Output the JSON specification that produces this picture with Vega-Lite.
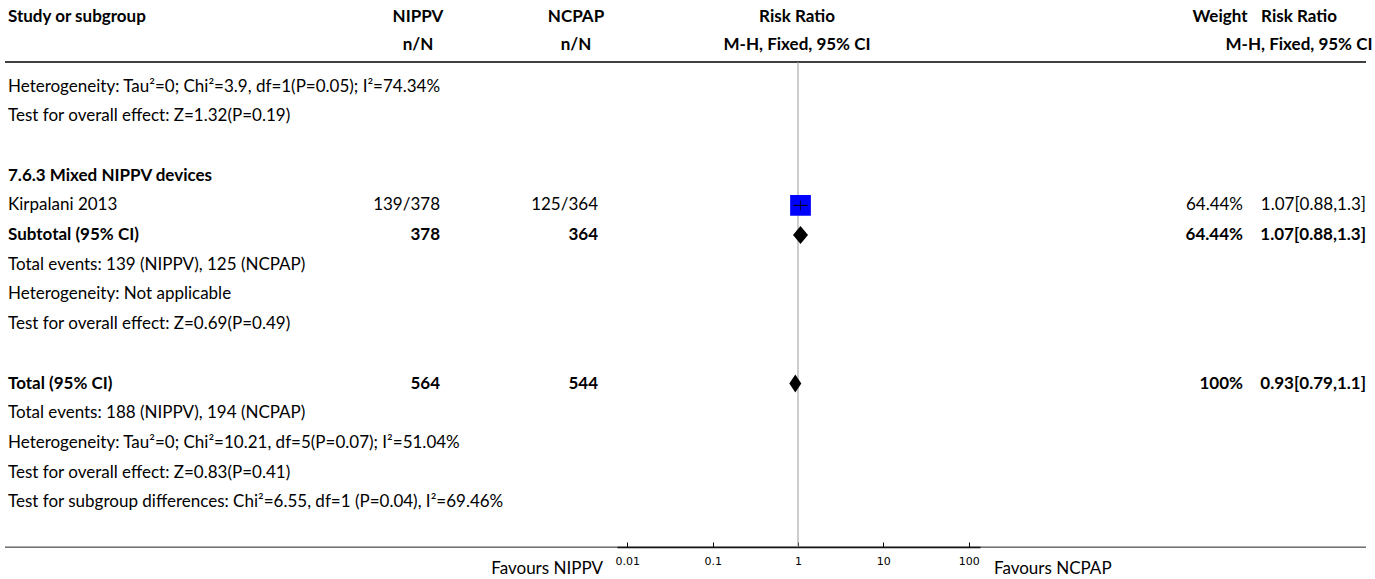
{
  "$schema": "https://vega.github.io/schema/vega-lite/v6.json",
  "width": 1375,
  "height": 547,
  "autosize": {"type": "none"},
  "padding": {"left": 0, "top": 0, "right": 0, "bottom": 32},
  "config": {
    "view": {"stroke": null},
    "font": "Lato",
    "text": {"font": "Lato", "fontSize": 17, "color": "#000", "baseline": "middle"},
    "axis": {"grid": false, "domainColor": "#000", "domainWidth": 1.5, "tickColor": "#000", "tickWidth": 1, "tickSize": -5, "labelFont": "DejaVu Sans", "labelFontSize": 11, "labelColor": "#000", "labelPadding": 13, "title": null}
  },
  "datasets": {
    "header": [
      {"hrow": -2.35, "study": "Study or subgroup", "nippv": "NIPPV", "ncpap": "NCPAP", "rr1": "Risk Ratio", "weight": "Weight", "rr": "Risk Ratio"},
      {"hrow": -1.4, "study": "", "nippv": "n/N", "ncpap": "n/N", "rr1": "M-H, Fixed, 95% CI", "weight": "", "rr": "M-H, Fixed, 95% CI"}
    ],
    "rows": [
      {"row": 0, "study": "Heterogeneity: Tau²=0; Chi²=3.9, df=1(P=0.05); I²=74.34%", "bold": false},
      {"row": 1, "study": "Test for overall effect: Z=1.32(P=0.19)", "bold": false},
      {"row": 3, "study": "7.6.3 Mixed NIPPV devices", "bold": true},
      {"row": 4, "study": "Kirpalani 2013", "nippv": "139/378", "ncpap": "125/364", "weight": "64.44%", "rr": "1.07[0.88,1.3]", "bold": false, "kind": "study", "est": 1.07, "lo": 0.88, "hi": 1.3},
      {"row": 5, "study": "Subtotal (95% CI)", "nippv": "378", "ncpap": "364", "weight": "64.44%", "rr": "1.07[0.88,1.3]", "bold": true, "kind": "subtotal", "est": 1.07, "lo": 0.88, "hi": 1.3},
      {"row": 6, "study": "Total events: 139 (NIPPV), 125 (NCPAP)", "bold": false},
      {"row": 7, "study": "Heterogeneity: Not applicable", "bold": false},
      {"row": 8, "study": "Test for overall effect: Z=0.69(P=0.49)", "bold": false},
      {"row": 10, "study": "Total (95% CI)", "nippv": "564", "ncpap": "544", "weight": "100%", "rr": "0.93[0.79,1.1]", "bold": true, "kind": "total", "est": 0.93, "lo": 0.79, "hi": 1.1},
      {"row": 11, "study": "Total events: 188 (NIPPV), 194 (NCPAP)", "bold": false},
      {"row": 12, "study": "Heterogeneity: Tau²=0; Chi²=10.21, df=5(P=0.07); I²=51.04%", "bold": false},
      {"row": 13, "study": "Test for overall effect: Z=0.83(P=0.41)", "bold": false},
      {"row": 14, "study": "Test for subgroup differences: Chi²=6.55, df=1 (P=0.04), I²=69.46%", "bold": false}
    ],
    "favours": [
      {"label": "Favours NIPPV", "side": "left"},
      {"label": "Favours NCPAP", "side": "right"}
    ]
  },
  "layer": [
    {
      "layer": [
        {
          "data": {"name": "header"},
          "mark": {"type": "text", "align": "left", "fontWeight": "bold"},
          "encoding": {
            "x": {"datum": 8, "type": "quantitative", "scale": {"domain": [0, 1375], "range": [0, 1375], "nice": false, "zero": false}, "axis": null},
            "y": {"field": "hrow", "type": "quantitative", "scale": {"domain": [0, 14], "range": [86.6, 502.3], "nice": false, "zero": false}, "axis": null},
            "text": {"field": "study"}
          }
        },
        {
          "data": {"name": "header"},
          "mark": {"type": "text", "align": "center", "fontWeight": "bold"},
          "encoding": {
            "x": {"datum": 418, "type": "quantitative"},
            "y": {"field": "hrow", "type": "quantitative"},
            "text": {"field": "nippv"}
          }
        },
        {
          "data": {"name": "header"},
          "mark": {"type": "text", "align": "center", "fontWeight": "bold"},
          "encoding": {
            "x": {"datum": 576, "type": "quantitative"},
            "y": {"field": "hrow", "type": "quantitative"},
            "text": {"field": "ncpap"}
          }
        },
        {
          "data": {"name": "header"},
          "mark": {"type": "text", "align": "center", "fontWeight": "bold"},
          "encoding": {
            "x": {"datum": 797, "type": "quantitative"},
            "y": {"field": "hrow", "type": "quantitative"},
            "text": {"field": "rr1"}
          }
        },
        {
          "data": {"name": "header"},
          "mark": {"type": "text", "align": "center", "fontWeight": "bold"},
          "encoding": {
            "x": {"datum": 1220, "type": "quantitative"},
            "y": {"field": "hrow", "type": "quantitative"},
            "text": {"field": "weight"}
          }
        },
        {
          "data": {"name": "header"},
          "mark": {"type": "text", "align": "center", "fontWeight": "bold"},
          "encoding": {
            "x": {"datum": 1299, "type": "quantitative"},
            "y": {"field": "hrow", "type": "quantitative"},
            "text": {"field": "rr"}
          }
        },
        {
          "data": {"name": "rows"},
          "mark": {"type": "text", "align": "left", "fontWeight": {"expr": "datum.bold ? 'bold' : 'normal'"}},
          "encoding": {
            "x": {"datum": 8, "type": "quantitative"},
            "y": {"field": "row", "type": "quantitative"},
            "text": {"field": "study"}
          }
        },
        {
          "data": {"name": "rows"},
          "transform": [{"filter": "isValid(datum.nippv)"}],
          "mark": {"type": "text", "align": "right", "fontWeight": {"expr": "datum.bold ? 'bold' : 'normal'"}},
          "encoding": {
            "x": {"datum": 440, "type": "quantitative"},
            "y": {"field": "row", "type": "quantitative"},
            "text": {"field": "nippv"}
          }
        },
        {
          "data": {"name": "rows"},
          "transform": [{"filter": "isValid(datum.ncpap)"}],
          "mark": {"type": "text", "align": "right", "fontWeight": {"expr": "datum.bold ? 'bold' : 'normal'"}},
          "encoding": {
            "x": {"datum": 598, "type": "quantitative"},
            "y": {"field": "row", "type": "quantitative"},
            "text": {"field": "ncpap"}
          }
        },
        {
          "data": {"name": "rows"},
          "transform": [{"filter": "isValid(datum.weight)"}],
          "mark": {"type": "text", "align": "right", "fontWeight": {"expr": "datum.bold ? 'bold' : 'normal'"}},
          "encoding": {
            "x": {"datum": 1243, "type": "quantitative"},
            "y": {"field": "row", "type": "quantitative"},
            "text": {"field": "weight"}
          }
        },
        {
          "data": {"name": "rows"},
          "transform": [{"filter": "isValid(datum.rr)"}],
          "mark": {"type": "text", "align": "right", "fontWeight": {"expr": "datum.bold ? 'bold' : 'normal'"}},
          "encoding": {
            "x": {"datum": 1366, "type": "quantitative"},
            "y": {"field": "row", "type": "quantitative"},
            "text": {"field": "rr"}
          }
        },
        {
          "data": {"values": [{}]},
          "mark": {"type": "rule", "color": "#000", "strokeWidth": 1.5},
          "encoding": {
            "x": {"datum": 5, "type": "quantitative"},
            "x2": {"datum": 1366},
            "y": {"datum": -0.83, "type": "quantitative"}
          }
        },
        {
          "data": {"values": [{}]},
          "mark": {"type": "rule", "color": "#222", "strokeWidth": 1},
          "encoding": {
            "x": {"datum": 5, "type": "quantitative"},
            "x2": {"datum": 1366},
            "y": {"datum": 15.51, "type": "quantitative"}
          }
        },
        {
          "data": {"name": "favours"},
          "transform": [{"filter": "datum.side == 'left'"}],
          "mark": {"type": "text", "align": "right"},
          "encoding": {
            "x": {"datum": 603, "type": "quantitative"},
            "y": {"datum": 16.25, "type": "quantitative"},
            "text": {"field": "label"}
          }
        },
        {
          "data": {"name": "favours"},
          "transform": [{"filter": "datum.side == 'right'"}],
          "mark": {"type": "text", "align": "left"},
          "encoding": {
            "x": {"datum": 994, "type": "quantitative"},
            "y": {"datum": 16.25, "type": "quantitative"},
            "text": {"field": "label"}
          }
        }
      ]
    },
    {
      "data": {"name": "rows"},
      "transform": [{"filter": "isValid(datum.est)"}],
      "layer": [
        {
          "data": {"values": [{}]},
          "mark": {"type": "rule", "color": "#999", "strokeWidth": 1},
          "encoding": {
            "x": {"datum": 1, "type": "quantitative", "scale": {"type": "log", "domain": [0.00757, 135.7], "range": [617, 980], "nice": false}, "axis": {"orient": "bottom", "values": [0.01, 0.1, 1, 10, 100], "format": "~g"}},
            "y": {"datum": -0.83, "type": "quantitative"},
            "y2": {"datum": 15.51}
          }
        },
        {
          "transform": [{"filter": "datum.kind == 'study'"}],
          "mark": {"type": "point", "shape": "square", "filled": true, "color": "#0000ff", "opacity": 1, "size": 430},
          "encoding": {
            "x": {"field": "est", "type": "quantitative"},
            "y": {"field": "row", "type": "quantitative"}
          }
        },
        {
          "transform": [{"filter": "datum.kind == 'study'"}],
          "mark": {"type": "rule", "color": "#000", "strokeWidth": 1},
          "encoding": {
            "x": {"field": "lo", "type": "quantitative"},
            "x2": {"field": "hi"},
            "y": {"field": "row", "type": "quantitative"}
          }
        },
        {
          "transform": [{"filter": "datum.kind == 'study'"}],
          "mark": {"type": "tick", "orient": "vertical", "color": "#000", "thickness": 1, "size": 10},
          "encoding": {
            "x": {"field": "est", "type": "quantitative"},
            "y": {"field": "row", "type": "quantitative"}
          }
        },
        {
          "transform": [{"filter": "datum.kind == 'subtotal'"}],
          "mark": {"type": "point", "shape": "M-0.833,0L0,-1L0.833,0L0,1Z", "filled": true, "color": "#000", "opacity": 1, "size": 324},
          "encoding": {
            "x": {"field": "est", "type": "quantitative"},
            "y": {"field": "row", "type": "quantitative"}
          }
        },
        {
          "transform": [{"filter": "datum.kind == 'total'"}],
          "mark": {"type": "point", "shape": "M-0.667,0L0,-1L0.667,0L0,1Z", "filled": true, "color": "#000", "opacity": 1, "size": 324},
          "encoding": {
            "x": {"field": "est", "type": "quantitative"},
            "y": {"field": "row", "type": "quantitative"}
          }
        }
      ]
    }
  ],
  "resolve": {"scale": {"x": "independent"}}
}
